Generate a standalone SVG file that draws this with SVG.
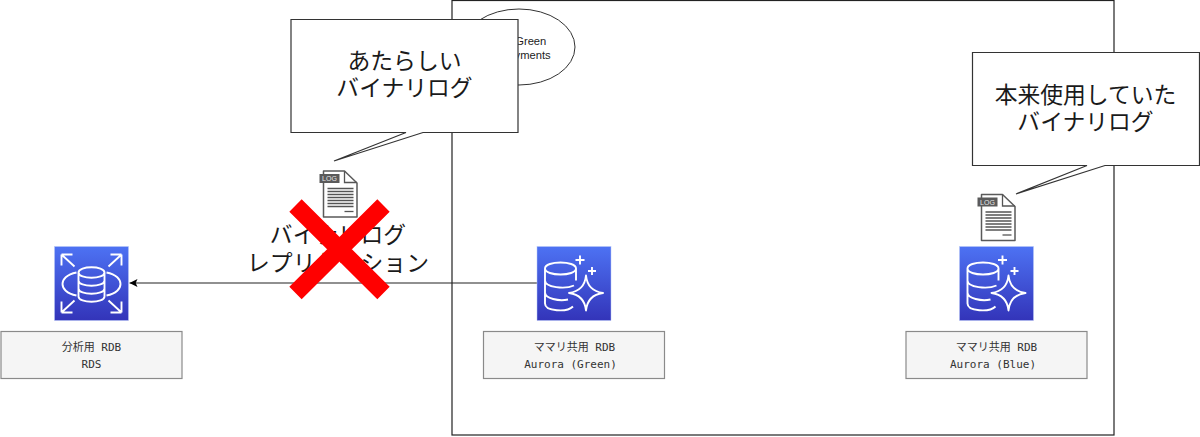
<svg xmlns="http://www.w3.org/2000/svg" width="1200" height="437" viewBox="0 0 1200 437">
<style>
.big{font-family:"Noto Sans CJK JP","Liberation Sans",sans-serif;font-size:22.800px;fill:#1a1a1a;text-anchor:middle}
.lbl{font-family:"DejaVu Sans Mono","Noto Sans CJK JP",monospace;font-size:11px;fill:#333;text-anchor:middle}
.sm{font-family:"Liberation Sans","Noto Sans CJK JP",sans-serif;font-size:11.200px;fill:#222;text-anchor:middle}
.tag{font-family:"Liberation Sans",sans-serif;font-size:7px;fill:#e4e4e4;text-anchor:middle}
.box{fill:#f5f5f5;stroke:#8a8a8a;stroke-width:1.200}
.call{fill:#fff;stroke:#333;stroke-width:1.200}
.ic{fill:none;stroke:#fff;stroke-width:1.900}
.doc{fill:#fff;stroke:#5a5a5a;stroke-width:1.500;stroke-linejoin:round}
.ln{stroke:#222;stroke-width:1.200;fill:none}
.dl{stroke:#555;stroke-width:1.300;fill:none}
</style>
<defs>
<linearGradient id="grad" x1="0" y1="0" x2="0" y2="1"><stop offset="0" stop-color="#4D72F3"/><stop offset="1" stop-color="#3334B9"/></linearGradient>
<marker id="arr" markerUnits="userSpaceOnUse" markerWidth="8" markerHeight="8" refX="8" refY="4" orient="auto"><path d="M0 0L8 4L0 8L1.800 4Z" fill="#000"/></marker>
<g id="aurora">
<rect width="74" height="74" fill="url(#grad)" stroke="#b8c8f8" stroke-width=".5"/>
<g class="ic">
<path d="M8 22C8 14 39 14 39 22C39 30 8 30 8 22ZM8 22V57C8 65 30 66 36 60M39 22V34M8 34C8 41 28 43 37 39M8 46C8 52 22 55 31 53"/>
<path d="M49 29C50 39 55 45 66 46.500C55 48 50 54 49 64C48 54 43 48 32 46.500C43 45 48 39 49 29Z" stroke-linejoin="round"/>
<path d="M43 9V18M38.500 13.500H47.500M55 20.500V28.500M51 24.500H59"/>
</g>
</g>
<g id="logdoc">
<path class="doc" d="M4 1H25L37.500 13V47H4Z"/>
<path class="dl" d="M25 1V12.500H37.500" stroke-width="1.500"/>
<path class="dl" d="M8 18.500H34M8 21.500H34M8 24.500H34M8 27.500H34M8 30.500H34M8 33.500H34M8 36.500H34"/>
<path class="dl" d="M25 41.500H34" stroke-width="1.500"/>
<rect x="0" y="4" width="20" height="9" fill="#5a5a5a"/>
</g>
</defs>
<rect width="1200" height="437" fill="#fff"/>
<g id="frame"><rect x="452" y="0.500" width="662" height="434.500" fill="#fff" stroke="#222" stroke-width="1.200"/></g>
<g id="bluegreen"><ellipse cx="519" cy="47" rx="56" ry="38" fill="#fff" stroke="#333" stroke-width="1"/>
<text class="sm" x="518" y="44.500">Blue/Green</text><text class="sm" x="518" y="59">Deployments</text></g>
<g id="connectors"><path class="ln" d="M537 283H129.500" marker-end="url(#arr)"/></g>
<g id="replication-label"><text class="big" x="338"><tspan x="338" y="243">バイナリログ</tspan><tspan x="338" y="271">レプリケーション</tspan></text></g>
<g id="rds">
<rect x="54.500" y="246.500" width="74" height="74" fill="url(#grad)" stroke="#b8c8f8" stroke-width=".5"/>
<g class="ic" transform="translate(54.500 246.500)">
<path d="M22 26C12 28 8 33 8 37.500C8 42 12 47 22 49M52 26C62 28 66 33 66 37.500C66 42 62 47 52 49"/>
<path d="M24 26C24 19 50 19 50 26V50C50 57 24 57 24 50ZM24 26C24 33 50 33 50 26M24 34C24 41 50 41 50 34M24 42C24 49 50 49 50 42"/>
<path d="M7 8L20 20M7 8V19M7 8H18M67 8L54 20M67 8V19M67 8H56M7 66L20 54M7 66V55M7 66H18M67 66L54 54M67 66V55M67 66H56"/>
</g>
<rect class="box" x="1" y="331.500" width="181" height="47"/>
<text class="lbl" x="91.500" y="351">分析用 RDB</text><text class="lbl" x="91.500" y="368">RDS</text>
</g>
<g id="aurora-green">
<use href="#aurora" x="537" y="246.500"/>
<rect class="box" x="483.500" y="331.500" width="181" height="47"/>
<text class="lbl" x="574.500" y="351">ママリ共用 RDB</text><text class="lbl" x="570.500" y="368">Aurora (Green)</text>
</g>
<g id="aurora-blue">
<use href="#aurora" x="959.500" y="246.500"/>
<rect class="box" x="906" y="331.500" width="181" height="47"/>
<text class="lbl" x="996.500" y="351">ママリ共用 RDB</text><text class="lbl" x="993" y="368">Aurora (Blue)</text>
</g>
<g id="log-green"><use href="#logdoc" x="319.500" y="170"/><text class="tag" x="329.500" y="181">LOG</text></g>
<g id="log-blue"><use href="#logdoc" x="977.500" y="193.500"/><text class="tag" x="987.500" y="204.500">LOG</text></g>
<g id="cross"><path d="M295.500 205.500L383.500 293M383.500 205.500L295.500 293" fill="none" stroke="#ff0000" stroke-width="17.500"/></g>
<g id="callout-new">
<path class="call" d="M291 19.500H518V132.500H423L334 161L406 132.500H291Z"/>
<text class="big" x="404.500"><tspan x="404.500" y="69">あたらしい</tspan><tspan x="404.500" y="96">バイナリログ</tspan></text>
</g>
<g id="callout-old">
<path class="call" d="M972.500 52.500H1199.500V165.500H1105L1016 194L1087 165.500H972.500Z"/>
<text class="big" x="1085.500"><tspan x="1085.500" y="103">本来使用していた</tspan><tspan x="1085.500" y="130">バイナリログ</tspan></text>
</g>
</svg>
